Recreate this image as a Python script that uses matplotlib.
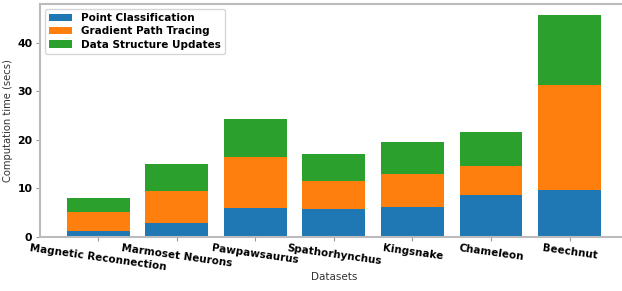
import matplotlib
matplotlib.use('Agg')
import matplotlib.pyplot as plt
import numpy as np

datasets = ['Magnetic Reconnection', 'Marmoset Neurons', 'Pawpawsaurus',
            'Spathorhynchus', 'Kingsnake', 'Chameleon', 'Beechnut']
point_classification = [1.2, 2.8, 5.9, 5.7, 6.1, 8.6, 9.7]
gradient_path_tracing = [3.8, 6.7, 10.6, 5.7, 6.9, 5.9, 21.5]
data_structure_updates = [2.9, 5.4, 7.7, 5.7, 6.5, 7.0, 14.5]

fig = plt.figure(figsize=(6.22, 2.91), dpi=100)
ax = fig.add_axes([0.0643, 0.1866, 0.945, 0.80])

x = np.arange(len(datasets))
pc = np.array(point_classification)
gp = np.array(gradient_path_tracing)
ds = np.array(data_structure_updates)

ax.bar(x, pc, color='#1f77b4', label='Point Classification')
ax.bar(x, gp, bottom=pc, color='#ff7f0e', label='Gradient Path Tracing')
ax.bar(x, ds, bottom=pc + gp, color='#2ca02c', label='Data Structure Updates')

ax.set_xticks(x)
ax.set_xticklabels(datasets, rotation=-8, ha='center', fontsize=7.5,
                   fontweight='bold')
ax.set_yticks([0, 10, 20, 30, 40])
for lbl in ax.get_yticklabels():
    lbl.set_fontweight('bold')
    lbl.set_fontsize(7.8)

ax.set_ylabel('Computation time (secs)', fontsize=7.2, color='#333333')
ax.yaxis.set_label_coords(-0.046, 0.5)
ax.set_xlabel('Datasets', fontsize=7.5, color='#333333', labelpad=0)

for side in ['left', 'bottom', 'top']:
    ax.spines[side].set_color('#bbbbbb')
    ax.spines[side].set_linewidth(1.5)
ax.spines['right'].set_visible(False)
ax.tick_params(colors='#999999', labelcolor='black', length=3)
ax.tick_params(axis='x', pad=1.5)
ax.tick_params(axis='y', pad=2.5)

leg = ax.legend(loc='upper left', prop={'weight': 'bold', 'size': 7.5},
                handlelength=2.2, borderpad=0.4, labelspacing=0.3)

fig.savefig('out.png', dpi=100)
